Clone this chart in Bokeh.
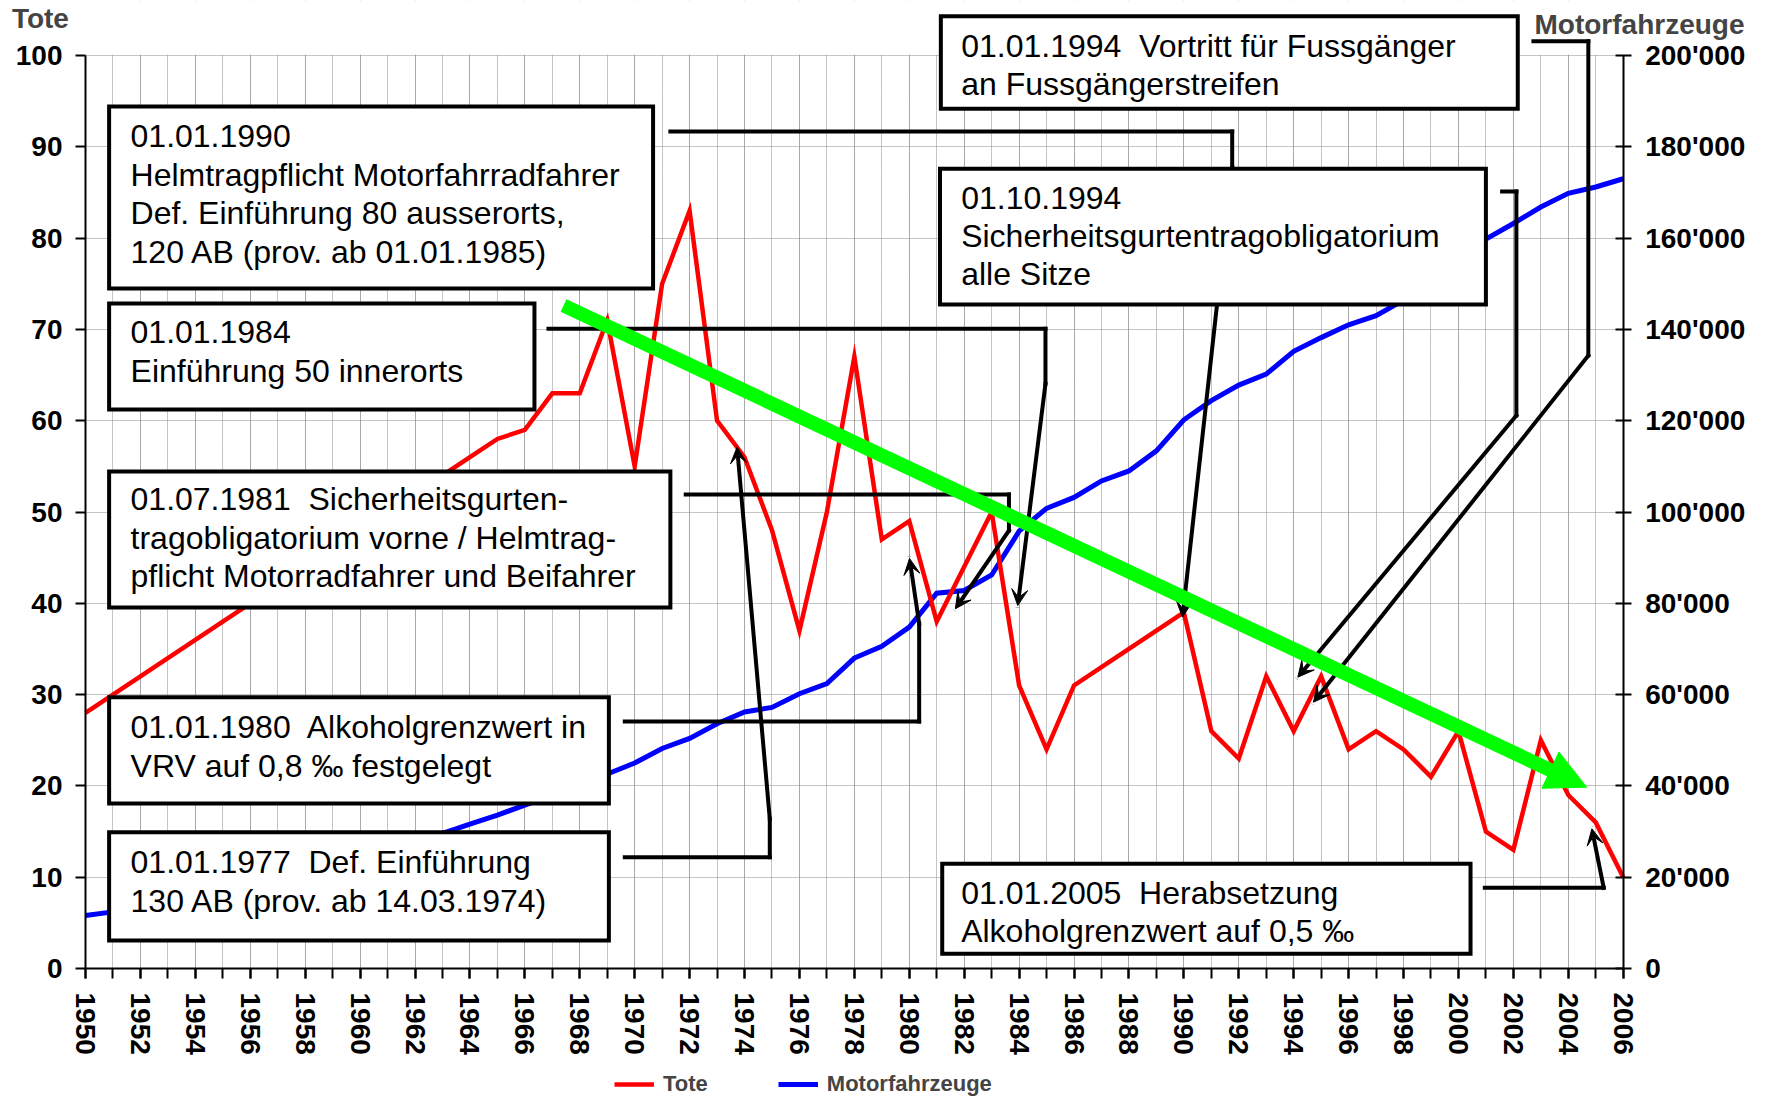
from bokeh.plotting import figure
from bokeh.models import (Range1d, LinearAxis, FixedTicker, CustomJSTickFormatter,
                          BoxAnnotation, Label, Arrow, VeeHead, NormalHead, Legend, LegendItem)
from bokeh.embed import file_html
from bokeh.resources import INLINE

# ---------------- data ----------------
years = list(range(1950, 2007))
tote = [28, 30, 32, 34, 36, 38, 40, 42, 44, 46,
        48, 50, 52, 54, 56, 58, 59, 63, 63, 71,
        55, 75, 83, 60, 56, 48, 37, 50, 67, 47,
        49, 38, 44, 50, 31, 24, 31, 33, 35, 37,
        39, 26, 23, 32, 26, 32, 24, 26, 24, 21,
        26, 15, 13, 25, 19, 16, 10]
motorfahrzeuge = [11600, 12400, 13600, 14800, 16000, 17400, 18800, 20200, 21600, 23200,
                  24800, 26400, 28000, 29600, 31600, 33600, 35800, 38000, 40200, 42600,
                  45000, 48200, 50400, 53600, 56200, 57200, 60200, 62400, 68000, 70600,
                  74800, 82200, 82800, 86200, 95800, 100800, 103200, 106800, 109000, 113400,
                  120200, 124400, 127800, 130200, 135200, 138200, 141000, 143000, 146400, 150600,
                  155200, 159800, 163200, 166800, 169800, 171200, 173000]
left_ticks = list(range(0, 101, 10))
right_ticks = list(range(0, 200001, 20000))
year_labels = list(range(1950, 2007, 2))

box_texts = [
    ["01.01.1990", "Helmtragpflicht Motorfahrradfahrer", "Def. Einführung 80 ausserorts,",
     "120 AB (prov. ab 01.01.1985)"],
    ["01.01.1984", "Einführung 50 innerorts"],
    ["01.07.1981\u00a0 Sicherheitsgurten-", "tragobligatorium vorne / Helmtrag-",
     "pflicht Motorradfahrer und Beifahrer"],
    ["01.01.1980\u00a0 Alkoholgrenzwert in", "VRV auf 0,8 \u2030 festgelegt"],
    ["01.01.1977\u00a0 Def. Einführung", "130 AB (prov. ab 14.03.1974)"],
    ["01.01.1994\u00a0 Vortritt für Fussgänger", "an Fussgängerstreifen"],
    ["01.10.1994", "Sicherheitsgurtentragobligatorium", "alle Sitze"],
    ["01.01.2005\u00a0 Herabsetzung", "Alkoholgrenzwert auf 0,5 \u2030"],
]
# (left, right, top, bottom) in (year, Tote) units
box_edges = [
    (1950.86, 1970.67, 94.41, 74.48),
    (1950.86, 1966.35, 72.84, 61.23),
    (1950.86, 1971.30, 54.44, 39.54),
    (1950.86, 1969.06, 29.72, 18.07),
    (1950.86, 1969.06, 14.93, 3.07),
    (1981.15, 2002.16, 104.30, 94.16),
    (1981.12, 2001.00, 87.59, 72.73),
    (1981.20, 2000.44, 11.47, 1.61),
]
text_x = [1951.64] * 5 + [1981.89] * 3
text_baselines = [
    [89.92, 85.65, 81.49, 77.27],
    [68.46, 64.24],
    [50.16, 45.95, 41.73],
    [25.19, 20.97],
    [10.41, 6.19],
    [99.81, 95.62],
    [83.21, 79.00, 74.81],
    [7.09, 2.88],
]
connectors = [
    [(1971.30, 91.68), (1991.76, 91.68), (1991.76, 87.76), (1989.95, 38.48)],
    [(1966.86, 70.07), (1984.96, 70.07), (1984.96, 64.04), (1983.95, 39.76)],
    [(1971.86, 51.92), (1983.63, 51.92), (1983.63, 47.97), (1981.68, 39.40)],
    [(1969.64, 27.05), (1980.36, 27.05), (1980.36, 37.79), (1980.01, 44.91)],
    [(1969.64, 12.19), (1974.92, 12.19), (1974.92, 16.40), (1973.73, 57.10)],
    [(2001.59, 85.10), (2002.11, 85.10), (2002.11, 60.57), (1994.15, 31.91)],
    [(2002.73, 101.57), (2004.73, 101.57), (2004.73, 67.14), (1994.72, 29.17)],
    [(2000.96, 8.84), (2005.29, 8.84), (2004.86, 15.30)],
]
trend = [(1967.41, 72.62), (2004.67, 19.86)]

FONT = "Liberation Sans"

# ---------------- geometry of the page ----------------
W, H = 1760, 1097
PX_YEAR = 27.459      # pixels per year
PX_UNIT = 9.13        # pixels per "Tote" unit
X0_PX = 85.0          # pixel of 1950
Y100_PX = 55.0        # pixel of 100
x_start = 1950 - X0_PX / PX_YEAR
x_end = x_start + W / PX_YEAR
y_end = 100 + Y100_PX / PX_UNIT
y_start = y_end - H / PX_UNIT
MFZ = 2000.0          # Motorfahrzeuge per Tote unit (200'000 <-> 100)

p = figure(width=W, height=H, x_range=Range1d(x_start, x_end), y_range=Range1d(y_start, y_end),
           output_backend="svg", toolbar_location=None,
           min_border_left=0, min_border_right=0, min_border_top=0, min_border_bottom=0,
           background_fill_color="white", border_fill_color="white")
p.outline_line_color = None
p.extra_y_ranges = {"mfz": Range1d(y_start * MFZ, y_end * MFZ)}

xa = p.xaxis[0]
xa.ticker = FixedTicker(ticks=year_labels, minor_ticks=years)
xa.fixed_location = 0
xa.bounds = (1950, 2006)
xa.major_label_orientation = "vertical"
xa.minor_tick_out = 10
xa.minor_tick_in = 0
xa.minor_tick_line_width = 2
xa.minor_tick_line_color = "black"

ya = p.yaxis[0]
ya.ticker = FixedTicker(ticks=left_ticks)
ya.fixed_location = 1950
ya.bounds = (0, 100)
ya.minor_tick_line_color = None

ra = LinearAxis(y_range_name="mfz", ticker=FixedTicker(ticks=right_ticks),
                formatter=CustomJSTickFormatter(code="return tick == 0 ? '0' : (tick/1000).toFixed(0) + \"'000\";"))
ra.fixed_location = 2006
ra.bounds = (0, 200000)
ra.minor_tick_line_color = None
ra.major_tick_in = 8
ra.major_tick_out = 8
p.add_layout(ra, "right")

for ax in (xa, ya, ra):
    ax.axis_line_width = 2
    ax.axis_line_color = "black"
    ax.major_tick_line_width = 2
    ax.major_tick_line_color = "black"
    ax.major_label_text_font = FONT
    ax.major_label_text_font_style = "bold"
    ax.major_label_text_font_size = "28px"
    ax.major_label_text_color = "black"
xa.major_tick_out = 10
xa.major_tick_in = 0
xa.major_label_standoff = 14
ya.major_tick_out = 10
ya.major_tick_in = 0
ya.major_label_standoff = 13
ra.major_label_standoff = 14

grid_col = "#8a8a8a"
p.xgrid.grid_line_color = grid_col
p.xgrid.grid_line_dash = "1 1"
p.xgrid.minor_grid_line_color = grid_col
p.xgrid.minor_grid_line_dash = "1 1"
p.ygrid.grid_line_color = grid_col
p.ygrid.grid_line_dash = "1 1"

# white masks (under the data) so the grid stays inside 1950-2006 x 0-100
xs0, xs1, ys0, ys1 = x_start - 2, x_end + 2, y_start - 5, y_end + 5
for l, r, b, t in [(xs0, 1950, ys0, ys1), (2006, xs1, ys0, ys1),
                   (xs0, xs1, 100.08, ys1), (xs0, xs1, ys0, 0)]:
    p.add_layout(BoxAnnotation(left=l, right=r, bottom=b, top=t, fill_color="white", fill_alpha=1.0,
                               line_color=None, level="underlay"))

r_blue = p.line(years, motorfahrzeuge, y_range_name="mfz", line_color="#0000ff",
                line_width=5, line_join="miter")
r_red = p.line(years, tote, line_color="#ff0000", line_width=4.5, line_join="miter")

# connectors (under the boxes)
for pts in connectors:
    n = len(pts)
    for i in range(n - 1):
        (x0, y0), (x1, y1) = pts[i], pts[i + 1]
        head = VeeHead(size=16, fill_color="black", line_color="black", line_width=1) if i == n - 2 else None
        p.add_layout(Arrow(x_start=x0, y_start=y0, x_end=x1, y_end=y1, end=head,
                           line_color="black", line_width=4, line_cap="square"))

TXT_PX = 32
mid_shift = 0.3465 * TXT_PX / PX_UNIT   # baseline -> middle of text box
for (l, r, t, b), lines, tx, bls in zip(box_edges, box_texts, text_x, text_baselines):
    p.add_layout(BoxAnnotation(left=l, right=r, top=t, bottom=b, fill_color="white", fill_alpha=1.0,
                               line_color="black", line_width=4, line_alpha=1.0, line_join="miter"))
    for txt, yb in zip(lines, bls):
        p.add_layout(Label(x=tx, y=yb + mid_shift, text=txt, text_font=FONT,
                           text_font_size=f"{TXT_PX}px", text_color="black",
                           text_baseline="middle", text_align="left"))

(gx0, gy0), (gx1, gy1) = trend
p.add_layout(Arrow(x_start=gx0, y_start=gy0, x_end=gx1, y_end=gy1, line_color="#00ff00", line_width=14,
                   end=NormalHead(size=40, fill_color="#00ff00", line_color="#00ff00", line_width=1)))

TITLE_PX = 28
t_shift = 0.3465 * TITLE_PX / PX_UNIT
p.add_layout(Label(x=1947.32, y=103.03 + t_shift, text="Tote", text_font=FONT, text_font_style="bold",
                   text_font_size=f"{TITLE_PX}px", text_baseline="middle"))
p.add_layout(Label(x=2002.77, y=102.37 + t_shift, text="Motorfahrzeuge", text_font=FONT,
                   text_font_style="bold", text_font_size=f"{TITLE_PX}px", text_baseline="middle"))

legend = Legend(items=[LegendItem(label="Tote", renderers=[r_red]),
                       LegendItem(label="Motorfahrzeuge", renderers=[r_blue])],
                orientation="horizontal", location=(614, 0),
                label_text_font=FONT, label_text_font_style="bold", label_text_font_size="22px",
                glyph_width=40, glyph_height=20, label_height=20, label_standoff=9, spacing=70,
                padding=0, margin=0, border_line_color=None, background_fill_alpha=0)
p.add_layout(legend, "center")

open("out.html", "w").write(file_html(p, INLINE))
